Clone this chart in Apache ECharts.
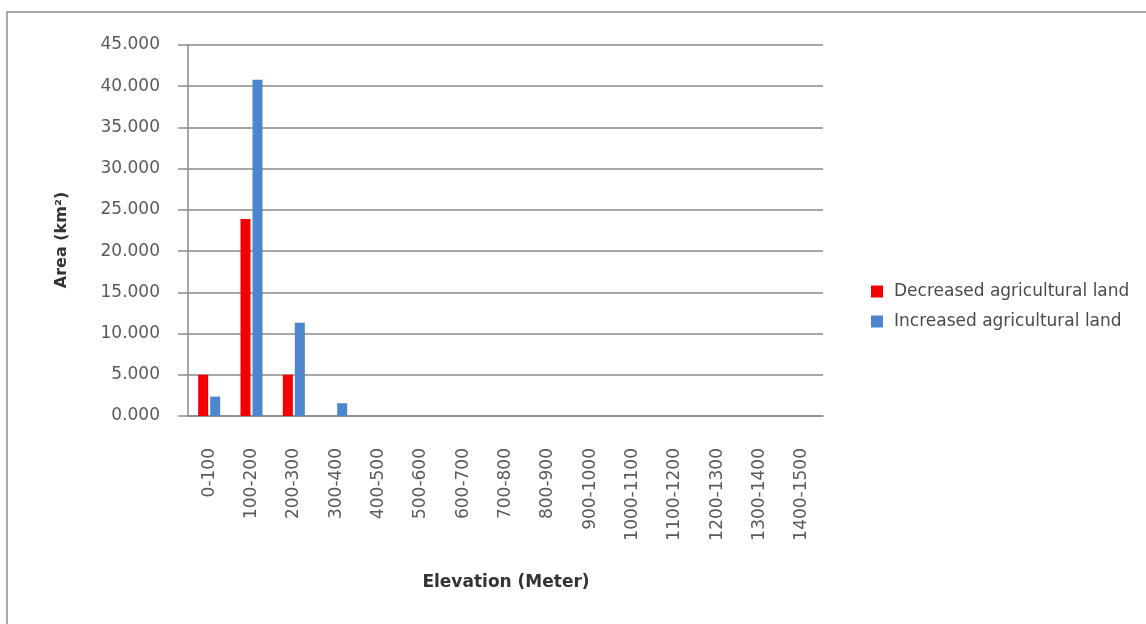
<!DOCTYPE html>
<html>
<head>
<meta charset="utf-8">
<script src="https://cdn.jsdelivr.net/npm/echarts@6/dist/echarts.min.js"></script>
<style>
  html, body { margin: 0; padding: 0; background: #fff; }
  #chart { width: 1146px; height: 624px; }
</style>
</head>
<body>
<div id="chart"></div>
<script>
// Elevation bands (m)
const bandLabels = ['0-100', '100-200', '200-300', '300-400', '400-500', '500-600', '600-700',
  '700-800', '800-900', '900-1000', '1000-1100', '1100-1200', '1200-1300', '1300-1400', '1400-1500'];
// Area per band (km²)
const decreasedLand = [5.0, 23.9, 5.0, 0, 0, 0, 0, 0, 0, 0, 0, 0, 0, 0, 0];
const increasedLand = [2.35, 40.8, 11.3, 1.55, 0, 0, 0, 0, 0, 0, 0, 0, 0, 0, 0];
const seriesNames = ['Decreased agricultural land', 'Increased agricultural land'];
const yTicks = { min: 0, max: 45, interval: 5 };

const chart = echarts.init(document.getElementById('chart'));
const axisGray = '#8a8a8a';
const labelGray = '#5a5a5a';

chart.setOption({
  animation: false,
  graphic: [
    {
      type: 'rect',
      shape: { x: 7, y: 12, width: 1200, height: 700 },
      style: { fill: 'none', stroke: '#8c8c8c', lineWidth: 1.5 },
      silent: true
    },
    {
      // y-axis title, rotated to read bottom-to-top
      type: 'text',
      x: 62, y: 240,
      rotation: Math.PI / 2,
      style: {
        text: 'Area (km²)',
        font: 'bold 16px "DejaVu Sans", sans-serif',
        fill: '#333',
        align: 'center',
        verticalAlign: 'middle'
      },
      silent: true
    },
    {
      // x-axis title
      type: 'text',
      x: 506, y: 583,
      style: {
        text: 'Elevation (Meter)',
        font: 'bold 17px "DejaVu Sans", sans-serif',
        fill: '#333',
        align: 'center',
        verticalAlign: 'middle'
      },
      silent: true
    }
  ],
  grid: { left: 188, right: 323, top: 45, bottom: 208 },
  legend: {
    orient: 'vertical',
    left: 866,
    top: 278,
    itemWidth: 12,
    itemHeight: 12,
    itemGap: 13,
    icon: 'rect',
    data: seriesNames,
    textStyle: { fontFamily: 'DejaVu Sans', fontSize: 17, color: '#4a4a4a', padding: [0, 0, 0, 6] }
  },
  xAxis: {
    type: 'category',
    data: bandLabels,
    axisLine: { lineStyle: { color: axisGray, width: 1.5 } },
    axisTick: { show: false },
    axisLabel: {
      rotate: 90, margin: 32, interval: 0,
      fontFamily: 'DejaVu Sans', fontSize: 17, color: labelGray
    }
  },
  yAxis: {
    type: 'value',
    min: yTicks.min, max: yTicks.max, interval: yTicks.interval,
    axisLine: { show: true, lineStyle: { color: axisGray, width: 1.5 } },
    axisTick: { show: true, length: 10, lineStyle: { color: axisGray, width: 1.5 } },
    splitLine: { lineStyle: { color: axisGray, width: 1.5 } },
    axisLabel: {
      margin: 28,
      fontFamily: 'DejaVu Sans', fontSize: 17, color: labelGray,
      formatter: v => v.toFixed(3)
    }
  },
  series: [
    {
      name: seriesNames[0], type: 'bar', data: decreasedLand,
      barWidth: 10, barGap: '20%',
      itemStyle: { color: '#f20000' }
    },
    {
      name: seriesNames[1], type: 'bar', data: increasedLand,
      barWidth: 10, barGap: '20%',
      itemStyle: { color: '#4d85d1' }
    }
  ]
});
</script>
</body>
</html>
